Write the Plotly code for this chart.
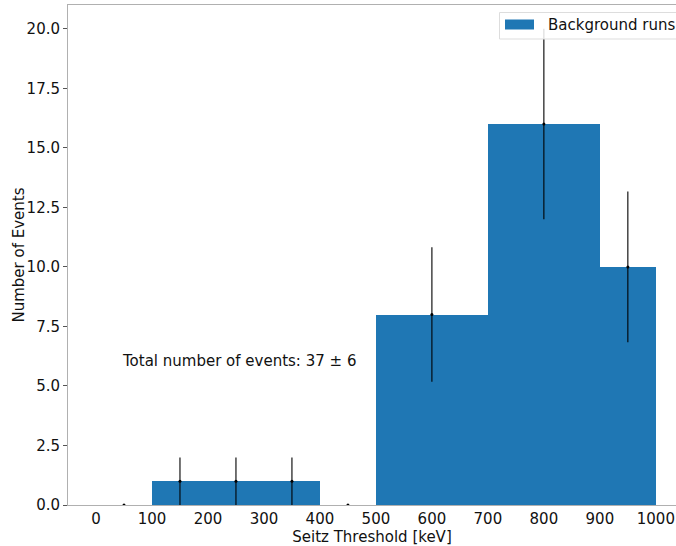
import numpy as np
import plotly.graph_objects as go

# Histogram of background events per Seitz threshold bin
bin_edges = [0, 100, 200, 300, 400, 500, 700, 900, 1000]
counts = [0, 1, 1, 1, 0, 8, 16, 10]
x_ticks = [0, 100, 200, 300, 400, 500, 600, 700, 800, 900, 1000]
y_ticks = [0.0, 2.5, 5.0, 7.5, 10.0, 12.5, 15.0, 17.5, 20.0]
series_name = "Background runs"
total_label = "Total number of events: 37 ± 6"

edges = np.array(bin_edges, dtype=float)
centers = (edges[:-1] + edges[1:]) / 2
widths = np.diff(edges)
cnt = np.array(counts, dtype=float)
errors = np.sqrt(cnt)

bar_color = "#1f77b4"
font_family = "DejaVu Sans"
spine = "#b0b0b0"

fig = go.Figure()
fig.add_trace(go.Bar(
    x=centers, y=cnt, width=widths,
    marker=dict(color=bar_color, line=dict(width=0)),
    name=series_name, showlegend=False,
))
fig.add_trace(go.Scatter(
    x=centers, y=cnt, mode="markers",
    marker=dict(color="black", size=3),
    error_y=dict(type="data", array=errors, visible=True,
                 color="black", thickness=1.1, width=0),
    showlegend=False, hoverinfo="skip",
))

fig.add_annotation(
    x=43, y=6.05, xref="x", yref="y", text=total_label,
    showarrow=False, xanchor="left", yanchor="middle",
    font=dict(family=font_family, size=15, color="#111111"),
)

# Legend box and axis title placed in pixel-like paper coordinates
W, H = 676, 546
ml, mr, mt, mb = 68, 0, 5, 41
pw, ph = W - ml - mr, H - mt - mb

def px(x):
    return (x - ml) / pw

def py(y):
    return 1 - (y - mt) / ph

fig.add_shape(type="rect", xref="paper", yref="paper",
              x0=px(499.5), x1=px(690), y0=py(39), y1=py(12.5),
              line=dict(color="#dddddd", width=1), fillcolor="rgba(255,255,255,0.85)",
              layer="above")
fig.add_shape(type="rect", xref="paper", yref="paper",
              x0=px(505), x1=px(534), y0=py(29.5), y1=py(19.5),
              line=dict(width=0), fillcolor=bar_color, layer="above")
fig.add_annotation(
    x=px(546), y=py(25), xref="paper", yref="paper", text=series_name,
    showarrow=False, xanchor="left", yanchor="middle",
    font=dict(family=font_family, size=15, color="#111111"),
)
fig.add_annotation(
    x=px(18.5), y=py(255), xref="paper", yref="paper", text="Number of Events",
    showarrow=False, xanchor="center", yanchor="middle", textangle=-90,
    font=dict(family=font_family, size=15, color="#111111"),
)

fig.update_layout(
    width=W, height=H,
    margin=dict(l=ml, r=mr, t=mt, b=mb, autoexpand=False),
    plot_bgcolor="white", paper_bgcolor="white",
    bargap=0,
    font=dict(family=font_family, size=15, color="#111111"),
    showlegend=False,
)
fig.update_xaxes(
    range=[-50, 1036], tickvals=x_ticks,
    ticktext=[str(v) for v in x_ticks],
    showgrid=False, zeroline=False,
    showline=True, linecolor=spine, linewidth=1, mirror=True,
    ticks="", ticklen=0,
    title=dict(text="Seitz Threshold [keV]", standoff=2,
               font=dict(family=font_family, size=15)),
    tickfont=dict(family=font_family, size=15),
)
fig.update_yaxes(
    range=[0, 21], tickvals=y_ticks,
    ticktext=[f"{v:.1f}" for v in y_ticks],
    showgrid=False, zeroline=False,
    showline=True, linecolor=spine, linewidth=1, mirror=True,
    ticks="outside", ticklen=4, tickcolor="#555555", tickwidth=1,
    tickfont=dict(family=font_family, size=15),
)

fig.write_html("out.html")
